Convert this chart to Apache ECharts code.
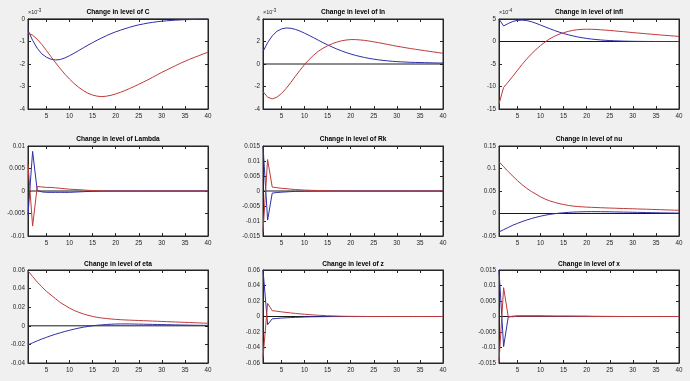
<!DOCTYPE html>
<html><head><meta charset="utf-8">
<script src="https://cdn.jsdelivr.net/npm/echarts@6/dist/echarts.min.js"></script>
<style>html,body{margin:0;padding:0;background:#f0f0f0}#c{width:690px;height:381px}</style>
</head><body><div id="c"></div><script>
const periods = [1,2,3,4,5,6,7,8,9,10,11,12,13,14,15,16,17,18,19,20,21,22,23,24,25,26,27,28,29,30,31,32,33,34,35,36,37,38,39,40];
const xTicks = [5,10,15,20,25,30,35,40];
const titles = ['Change in level of C','Change in level of In','Change in level of infl','Change in level of Lambda','Change in level of Rk','Change in level of nu','Change in level of eta','Change in level of z','Change in level of x'];
const yMin = [-4,-4,-15,-0.01,-0.015,-0.05,-0.04,-0.06,-0.015];
const yMax = [0,4,5,0.01,0.015,0.15,0.06,0.06,0.015];
const yStep = [1,2,5,0.005,0.005,0.05,0.02,0.02,0.005];
const yExponent = ['-3','-3','-4',null,null,null,null,null,null];

// C (x10^-3)
const cBlue = [-0.50,-0.95,-1.30,-1.55,-1.70,-1.79,-1.82,-1.80,-1.73,-1.63,-1.52,-1.40,-1.28,-1.16,-1.05,-0.94,-0.84,-0.74,-0.65,-0.57,-0.50,-0.43,-0.37,-0.31,-0.26,-0.22,-0.18,-0.15,-0.12,-0.10,-0.08,-0.065,-0.05,-0.04,-0.03,-0.025,-0.02,-0.015,-0.01,-0.008];
const cRed = [-0.62,-0.72,-0.90,-1.13,-1.40,-1.68,-1.95,-2.21,-2.45,-2.67,-2.87,-3.04,-3.18,-3.30,-3.38,-3.43,-3.45,-3.43,-3.39,-3.33,-3.26,-3.18,-3.09,-3.00,-2.90,-2.80,-2.70,-2.59,-2.48,-2.37,-2.27,-2.17,-2.07,-1.97,-1.88,-1.79,-1.71,-1.63,-1.55,-1.48];
// In (x10^-3)
const inBlue = [1.10,1.90,2.50,2.90,3.12,3.20,3.18,3.08,2.93,2.74,2.54,2.33,2.11,1.90,1.70,1.51,1.33,1.17,1.02,0.89,0.77,0.67,0.58,0.50,0.43,0.37,0.32,0.28,0.24,0.21,0.19,0.17,0.15,0.14,0.13,0.12,0.11,0.10,0.09,0.09];
const inRed = [-2.45,-2.95,-3.10,-2.95,-2.62,-2.18,-1.66,-1.10,-0.56,-0.05,0.40,0.80,1.13,1.40,1.62,1.80,1.95,2.06,2.13,2.17,2.17,2.14,2.10,2.04,1.97,1.90,1.82,1.74,1.66,1.58,1.51,1.44,1.37,1.31,1.25,1.19,1.13,1.07,1.01,0.95];
// infl (x10^-4)
const inflBlue = [5.0,3.45,4.0,4.45,4.7,4.75,4.65,4.4,4.05,3.65,3.25,2.85,2.45,2.1,1.78,1.5,1.25,1.03,0.84,0.68,0.55,0.44,0.35,0.27,0.21,0.16,0.12,0.09,0.06,0.04,0.03,0.02,0.01,0.01,0,0,0,0,0,0];
const inflRed = [-13.9,-10.2,-9.0,-7.7,-6.4,-5.1,-3.9,-2.8,-1.8,-0.9,-0.1,0.6,1.15,1.6,1.95,2.25,2.47,2.62,2.7,2.73,2.72,2.68,2.61,2.53,2.45,2.36,2.27,2.18,2.08,1.98,1.89,1.8,1.71,1.62,1.53,1.45,1.37,1.29,1.21,1.13];
// Lambda
const lambdaBlue = [-0.0053,0.0088,0.0001,-0.0002,-0.0003,-0.0003,-0.0003,-0.0003,-0.0003,-0.0003,-0.00025,-0.0002,-0.00015,-0.0001,-0.00007,-0.00005,-0.00003,-0.00002,-0.00001,0,0,0,0,0,0,0,0,0,0,0,0,0,0,0,0,0,0,0,0,0];
const lambdaRed = [0.0060,-0.0078,0.0010,0.0009,0.0008,0.0008,0.0007,0.0006,0.0005,0.0004,0.00035,0.0003,0.00022,0.00015,0.0001,0.00006,0.00003,0.00001,0,0,0,0,0,0,0,0,0,0,0,0,0,0,0,0,0,0,0,0,0,0];
// Rk
const rkBlue = [0.0150,-0.0097,-0.0007,-0.0005,-0.0004,-0.0003,-0.0002,-0.00015,-0.0001,-0.00007,-0.00005,-0.00003,-0.00002,-0.00001,0,0,0,0,0,0,0,0,0,0,0,0,0,0,0,0,0,0,0,0,0,0,0,0,0,0];
const rkRed = [-0.0136,0.0105,0.0013,0.0011,0.0009,0.0008,0.0006,0.0005,0.0004,0.0003,0.00025,0.0002,0.00015,0.0001,0.00008,0.00006,0.00004,0.00003,0.00002,0.00001,0,0,0,0,0,0,0,0,0,0,0,0,0,0,0,0,0,0,0,0];
// nu
const nuBlue = [-0.041,-0.036,-0.031,-0.026,-0.022,-0.018,-0.0145,-0.0113,-0.0085,-0.006,-0.0038,-0.002,-0.0005,0.0007,0.0017,0.0025,0.0031,0.0035,0.0038,0.004,0.0041,0.0041,0.004,0.0039,0.0037,0.0035,0.0033,0.0031,0.0029,0.0027,0.0025,0.0023,0.0021,0.0019,0.0017,0.0015,0.0013,0.0012,0.001,0.0009];
const nuRed = [0.115,0.104,0.093,0.083,0.073,0.064,0.056,0.049,0.043,0.037,0.032,0.028,0.025,0.022,0.020,0.018,0.0165,0.0155,0.0148,0.0142,0.0137,0.0133,0.0129,0.0125,0.0121,0.0118,0.0114,0.0111,0.0108,0.0105,0.0101,0.0098,0.0095,0.0091,0.0088,0.0085,0.0081,0.0078,0.0075,0.0072];
// eta
const etaBlue = [-0.0205,-0.0183,-0.0162,-0.0142,-0.0124,-0.0106,-0.009,-0.0075,-0.0061,-0.0048,-0.0036,-0.0025,-0.0015,-0.0007,0.0000,0.0006,0.001,0.0014,0.0017,0.0019,0.002,0.002,0.002,0.0019,0.0018,0.0017,0.0016,0.0015,0.0014,0.0013,0.0012,0.0011,0.001,0.0009,0.0008,0.0007,0.0006,0.0005,0.0005,0.0004];
const etaRed = [0.059,0.053,0.047,0.042,0.037,0.033,0.029,0.025,0.022,0.019,0.0165,0.0145,0.0128,0.0113,0.0101,0.0091,0.0084,0.0078,0.0073,0.0069,0.0066,0.0063,0.0061,0.0059,0.0057,0.0055,0.0053,0.0051,0.0049,0.0047,0.0045,0.0043,0.0041,0.0039,0.0037,0.0035,0.0033,0.0031,0.0029,0.0027];
// z
const zBlue = [0.06,-0.0105,-0.003,-0.0025,-0.002,-0.0017,-0.0014,-0.0011,-0.0009,-0.0007,-0.0005,-0.0004,-0.0003,-0.0002,-0.00015,-0.0001,-0.00007,-0.00005,-0.00003,-0.00002,0,0,0,0,0,0,0,0,0,0,0,0,0,0,0,0,0,0,0,0];
const zRed = [-0.053,0.017,0.0075,0.0068,0.006,0.0053,0.0046,0.004,0.0034,0.0029,0.0024,0.002,0.0016,0.0013,0.001,0.0008,0.0006,0.0004,0.0003,0.0002,0.00015,0.0001,0.00005,0,0,0,0,0,0,0,0,0,0,0,0,0,0,0,0,0];
// x
const xBlue = [0.015,-0.0097,-0.0002,0.0001,0.0002,0.0002,0.0002,0.0002,0.0002,0.0002,0.00015,0.00015,0.0001,0.0001,0.0001,0.0001,0.0001,0.0001,0.0001,0.0001,0.00008,0.00006,0.00005,0.00004,0.00003,0.00002,0.00001,0,0,0,0,0,0,0,0,0,0,0,0,0];
const xRed = [-0.0147,0.0093,0.0000,-0.0001,0.0001,0.0001,0.0001,0.0001,0.0001,0.0001,0.0001,0.0001,0.0001,0.0001,0.0001,0.0001,0.00008,0.00006,0.00004,0.00002,0,0,0,0,0,0,0,0,0,0,0,0,0,0,0,0,0,0,0,0];

const blueSets = [cBlue,inBlue,inflBlue,lambdaBlue,rkBlue,nuBlue,etaBlue,zBlue,xBlue];
const redSets = [cRed,inRed,inflRed,lambdaRed,rkRed,nuRed,etaRed,zRed,xRed];

const colLeft = [28, 263, 499];
const rowTop = [19, 146, 270];
const rowH = [90, 90, 93];
const titleOffset = [10, 10, 9];
const W = 180;
const FONT = 'Liberation Sans, Arial, sans-serif';
const AX = '#262626';

const grids = [], xAxes = [], yAxes = [], series = [], title = [];
for (let i = 0; i < 9; i++) {
  const r = Math.floor(i / 3), c = i % 3;
  grids.push({left: colLeft[c], top: rowTop[r], width: W, height: rowH[r], show: true,
    backgroundColor: '#ffffff', borderColor: AX, borderWidth: 1, containLabel: false});
  title.push({text: titles[i], left: colLeft[c] + W / 2, top: rowTop[r] - titleOffset[r], textAlign: 'center', padding: 0,
    textStyle: {fontFamily: FONT, fontSize: 6.6, fontWeight: 'bold', color: '#000'}});
  const common = {gridIndex: i, type: 'value', splitLine: {show: false},
    axisLine: {show: true, onZero: false, lineStyle: {color: AX, width: 1}}};
  xAxes.push(Object.assign({}, common, {position: 'bottom', min: 1, max: 40,
    axisTick: {inside: true, length: 3, customValues: xTicks, lineStyle: {color: AX}},
    axisLabel: {customValues: xTicks, fontSize: 6.3, fontFamily: FONT, color: AX, margin: 4}}));
  xAxes.push(Object.assign({}, common, {position: 'top', min: 1, max: 40,
    axisTick: {inside: true, length: 3, customValues: xTicks, lineStyle: {color: AX}},
    axisLabel: {show: false}}));
  const exp = yExponent[i];
  const fmt = v => { const s = +v.toFixed(6); return String(s); };
  const yMain = Object.assign({}, common, {position: 'left', min: yMin[i], max: yMax[i], interval: yStep[i],
    axisTick: {inside: true, length: 3, lineStyle: {color: AX}},
    axisLabel: {fontSize: 6.3, fontFamily: FONT, color: AX, margin: 3, formatter: fmt}});
  if (exp) {
    yMain.name = '×10{s|' + exp + '}';
    yMain.nameLocation = 'end';
    yMain.nameGap = 2;
    yMain.nameTextStyle = {align: 'left', fontSize: 5.5, fontFamily: FONT, color: AX, verticalAlign: 'bottom',
      rich: {s: {fontSize: 4.5, fontFamily: FONT, color: AX, verticalAlign: 'top', padding: [0, 0, 4, 0]}}};
  }
  yAxes.push(yMain);
  yAxes.push(Object.assign({}, common, {position: 'right', min: yMin[i], max: yMax[i], interval: yStep[i],
    axisTick: {inside: true, length: 3, lineStyle: {color: AX}}, axisLabel: {show: false}}));
  const xi = i * 2, yi = i * 2;
  series.push({type: 'line', xAxisIndex: xi, yAxisIndex: yi, data: [[periods[0], 0], [periods[periods.length - 1], 0]],
    showSymbol: false, silent: true, lineStyle: {color: '#1a1a1a', width: 1}, z: 2});
  series.push({type: 'line', xAxisIndex: xi, yAxisIndex: yi, data: periods.map((p, k) => [p, blueSets[i][k]]),
    showSymbol: false, lineStyle: {color: '#2e2ea6', width: 1}, z: 3});
  series.push({type: 'line', xAxisIndex: xi, yAxisIndex: yi, data: periods.map((p, k) => [p, redSets[i][k]]),
    showSymbol: false, lineStyle: {color: '#c03a3a', width: 1}, z: 4});
}

const chart = echarts.init(document.getElementById('c'), null, {renderer: 'canvas'});
chart.setOption({backgroundColor: '#f0f0f0', animation: false, title, grid: grids, xAxis: xAxes, yAxis: yAxes, series});
</script></body></html>
